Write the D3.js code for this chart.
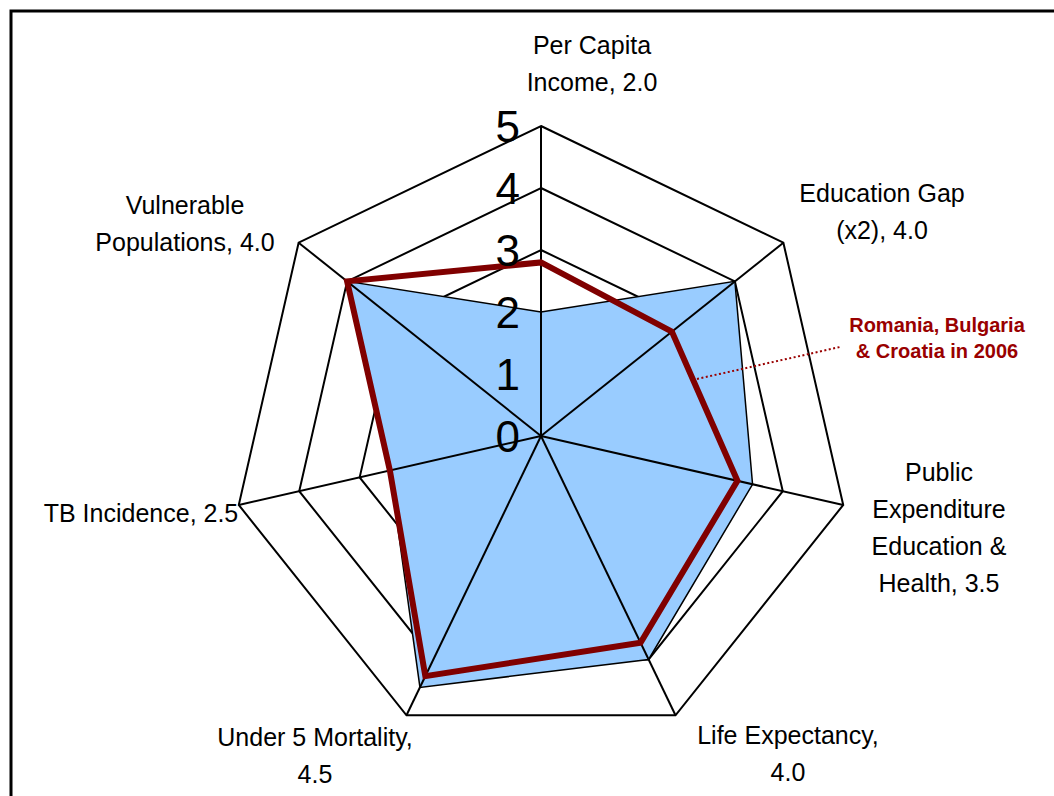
<!DOCTYPE html>
<html>
<head>
<meta charset="utf-8">
<script src="https://cdn.jsdelivr.net/npm/d3@7"></script>
<style>
  html, body { margin: 0; padding: 0; background: #fff; }
  svg { display: block; }
  text { font-family: "Liberation Sans", Arial, sans-serif; }
</style>
</head>
<body>
<svg id="chart" width="1054" height="796"></svg>
<script>
// Indicator axes, clockwise from the top
const categories = [
  "Per Capita Income",
  "Education Gap (x2)",
  "Public Expenditure Education & Health",
  "Life Expectancy",
  "Under 5 Mortality",
  "TB Incidence",
  "Vulnerable Populations"
];
// Axis labels, one entry per line
const categoryLabels = [
  ["Per Capita", "Income, 2.0"],
  ["Education Gap", "(x2), 4.0"],
  ["Public", "Expenditure", "Education &", "Health, 3.5"],
  ["Life Expectancy,", "4.0"],
  ["Under 5 Mortality,", "4.5"],
  ["TB Incidence, 2.5"],
  ["Vulnerable", "Populations, 4.0"]
];
// Filled series (value stated in each label)
const seriesMain = [2.0, 4.0, 3.5, 4.0, 4.5, 2.5, 4.0];
// Romania, Bulgaria & Croatia in 2006
const seriesRBC = [2.8, 2.7, 3.25, 3.7, 4.3, 2.5, 4.0];
const tickValues = [0, 1, 2, 3, 4, 5];
const annotationLines = ["Romania, Bulgaria", "& Croatia in 2006"];

const svg = d3.select("#chart");
const cx = 541, cy = 436, R = 310;
const n = categories.length;

const r = d3.scaleLinear().domain([0, 5]).range([0, R]);
const angle = d3.scaleLinear().domain([0, n]).range([0, 2 * Math.PI]);

const pt = (i, v) => {
  const a = angle(i);
  return [cx + r(v) * Math.sin(a), cy - r(v) * Math.cos(a)];
};

const closed = d3.line().curve(d3.curveLinearClosed);

// outer frame
svg.append("rect")
  .attr("x", 11).attr("y", 11).attr("width", 1200).attr("height", 1000)
  .attr("fill", "none").attr("stroke", "#000").attr("stroke-width", 3);

// grid rings
svg.append("g").selectAll("path")
  .data(tickValues.slice(1))
  .join("path")
  .attr("d", v => closed(d3.range(n).map(i => pt(i, v))))
  .attr("fill", "none").attr("stroke", "#000").attr("stroke-width", 2)
  .attr("stroke-linejoin", "miter");

// filled series
svg.append("path")
  .attr("d", closed(seriesMain.map((v, i) => pt(i, v))))
  .attr("fill", "#99ccff").attr("stroke", "#000").attr("stroke-width", 1.5)
  .attr("stroke-linejoin", "miter");

// spokes
svg.append("g").selectAll("line")
  .data(d3.range(n))
  .join("line")
  .attr("x1", cx).attr("y1", cy)
  .attr("x2", i => pt(i, 5)[0]).attr("y2", i => pt(i, 5)[1])
  .attr("stroke", "#000").attr("stroke-width", 2);

// line series
svg.append("path")
  .attr("d", closed(seriesRBC.map((v, i) => pt(i, v))))
  .attr("fill", "none").attr("stroke", "#800000").attr("stroke-width", 6)
  .attr("stroke-linejoin", "miter");

// value axis tick labels
svg.append("g").selectAll("text")
  .data(tickValues)
  .join("text")
  .attr("x", cx - 21)
  .attr("y", v => cy - r(v) + 15.5)
  .attr("text-anchor", "end")
  .attr("font-size", 44)
  .attr("fill", "#000")
  .text(d => d);

// category labels: anchor (centre x, first baseline) per axis
const labelAnchors = [
  [592, 54], [882, 202], [939, 481], [788, 744],
  [315, 746], [141, 522], [185, 214]
];
const lineGap = 37;
const lab = svg.append("g");
categoryLabels.forEach((lines, i) => {
  const [lx, ly] = labelAnchors[i];
  lines.forEach((t, k) => {
    lab.append("text")
      .attr("x", lx).attr("y", ly + k * lineGap)
      .attr("text-anchor", "middle")
      .attr("font-size", 25)
      .attr("fill", "#000")
      .text(t);
  });
});

// series annotation with dotted leader
svg.append("line")
  .attr("x1", 697).attr("y1", 379).attr("x2", 840).attr("y2", 347)
  .attr("stroke", "#990000").attr("stroke-width", 2)
  .attr("stroke-dasharray", "2,2.5");
annotationLines.forEach((t, k) => {
  svg.append("text")
    .attr("x", 937).attr("y", 332 + k * 26)
    .attr("text-anchor", "middle")
    .attr("font-size", 20).attr("font-weight", "bold")
    .attr("fill", "#990000")
    .text(t);
});
</script>
</body>
</html>
